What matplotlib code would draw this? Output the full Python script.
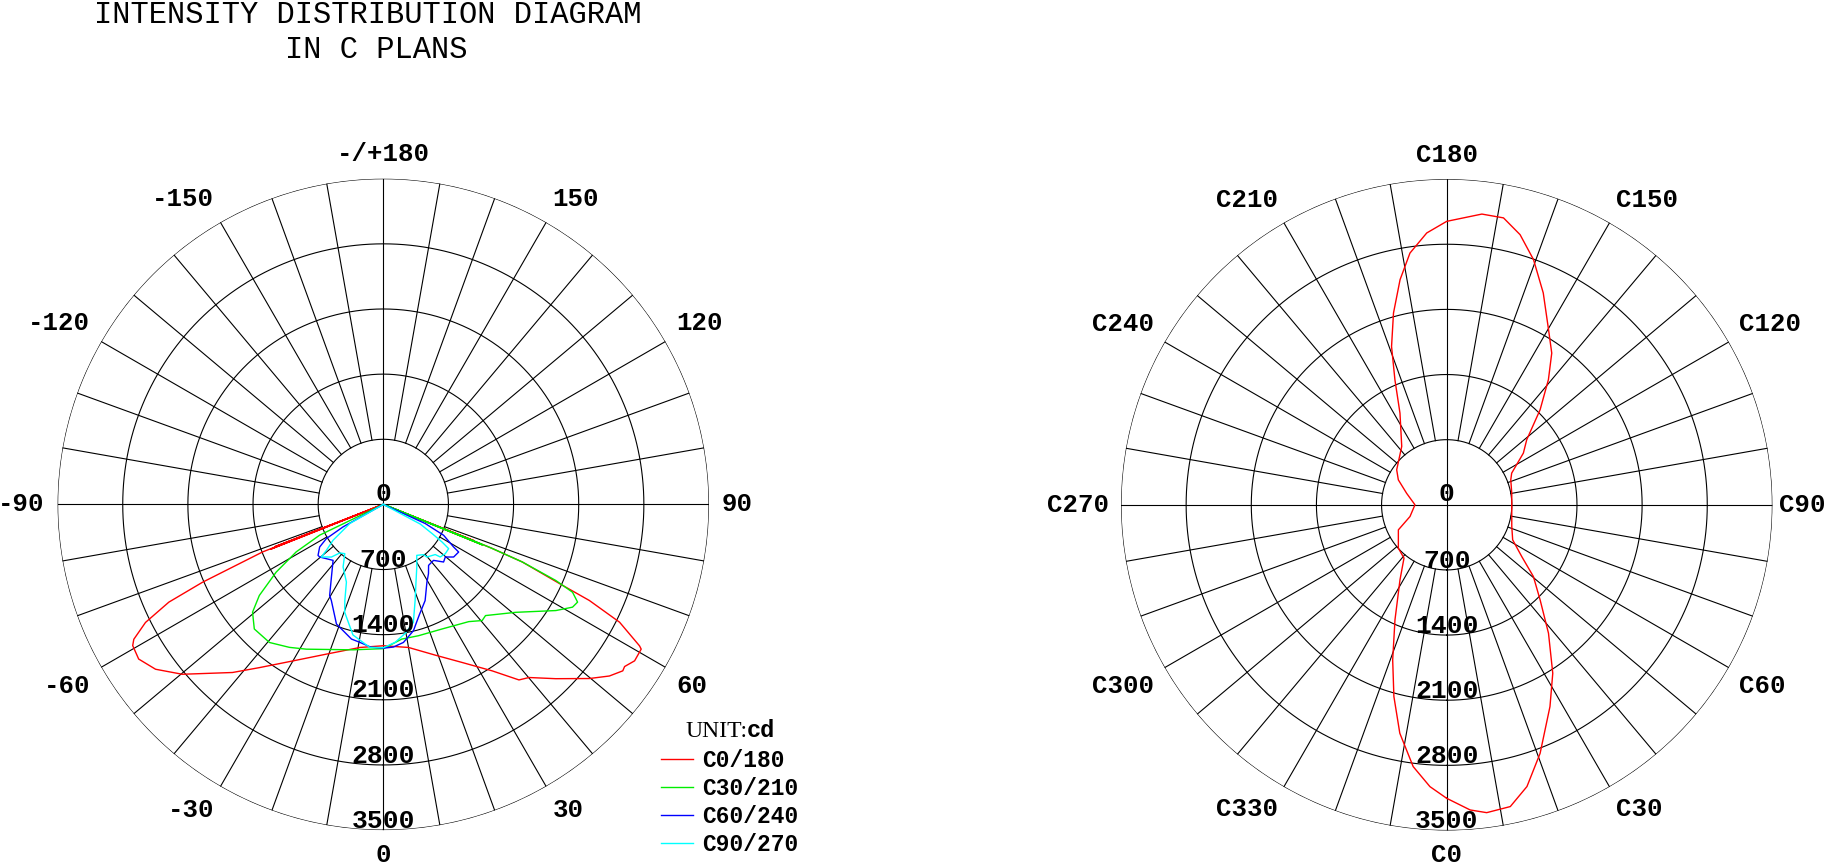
import numpy as np
import matplotlib.pyplot as plt
from matplotlib.font_manager import FontProperties

# ---- left diagram: gamma angle (deg) vs intensity (cd) for each C-plane pair ----
c0_gamma = [-90, -68.7, -65, -68.3, -71, -68.5, -66.7, -65.5, -63.6, -61.6, -60.6, -57.7,
            -54.1, -49.8, -41.9, -37.2, -30, -20.8, -9.3, 0, 10, 19, 26.5, 33.2, 37.7,
            40.1, 44.7, 49.8, 52.8, 55.2, 56.1, 58.1, 60.7, 61.1, 63.5, 65, 65.7, 67.5,
            68.0, 70.5, 67.8, 64.5, 68.2, 90]
c0_cd = [0, 1250, 40, 1300, 40, 1393, 2116, 2532, 2853, 3048, 3091, 3110,
         3021, 2828, 2427, 2202, 1942, 1721, 1558, 1519, 1561, 1713, 1898, 2138, 2384,
         2432, 2635, 2899, 3050, 3134, 3124, 3181, 3178, 3145, 2837, 2443, 2114, 1617,
         1250, 40, 1150, 40, 1050, 0]

c30_gamma = [-90, -64.2, -61.4, -57.7, -53.7, -50.5, -46, -39.5, -33.3, -28, -11.7, 0,
             7.8, 15, 25.2, 36.1, 40.4, 42.6, 50.8, 58.4, 61.5, 63.3, 65.1, 66.2, 67.5,
             68, 70, 67.8, 90]
c30_cd = [0, 760, 1066, 1362, 1653, 1821, 1927, 1923, 1838, 1762, 1596, 1550,
          1461, 1461, 1480, 1559, 1639, 1623, 1835, 2177, 2314, 2337, 2242, 2026, 1617,
          1250, 40, 1150, 0]

c60_gamma = [-90, -60.8, -59, -56.2, -52, -50.4, -41.9, -35.5, -30.5, -28.4, -21.4, -13.3,
             -9.6, -5, 0, 4, 8.3, 13.4, 18, 23.5, 29.3, 33.1, 36.6, 41.9, 46.3, 49.7,
             53.2, 57.7, 58.8, 62.9, 65.5, 90]
c60_cd = [0, 495, 714, 823, 890, 887, 808, 960, 1136, 1174, 1380, 1487,
          1504, 1540, 1545, 1537, 1499, 1396, 1250, 1127, 958, 889, 816, 808, 896, 874,
          944, 958, 883, 728, 495, 0]

c90_gamma = [-90, -60.3, -54.5, -51.1, -49.7, -47.3, -44.6, -41.9, -38, -32.7, -25.4, -21.8,
             -19.7, -13.1, -5.4, 0, 4.9, 10, 14.3, 18.3, 23, 28.1, 33.3, 38.7, 39.6, 46,
             47.3, 51.5, 55.9, 57.4, 59, 62, 90]
c90_cd = [0, 414, 663, 786, 874, 833, 795, 701, 672, 800, 924, 1113,
          1231, 1440, 1544, 1540, 1488, 1400, 1308, 1089, 900, 764, 655, 692, 734, 776,
          833, 851, 848, 748, 620, 450, 0]

# ---- right diagram: C angle (deg) vs intensity (cd) ----
c_angle = [0, 4.4, 7.4, 11.9, 15.9, 20.6, 27.1, 32.2, 38.4, 44.5, 50.4, 55.4, 62, 71.6, 80,
           90, 100, 111.3, 116, 124, 129.1, 135.5, 140.9, 145.3, 149.8, 155.5, 160.5, 164.8,
           168.8, 173.1, 180, 184.2, 188.3, 191.7, 195.5, 199.2, 202.5, 207, 217.6, 235,
           242.7, 254, 270, 287.7, 297.4, 311.9, 321.3, 328.1, 335.8, 340.8, 344.6, 348.4,
           352.7, 356.6, 360]
c_cd = [3154, 3289, 3336, 3314, 3148, 2853, 2436, 2139, 1761, 1432, 1209, 980, 803, 737, 710,
        699, 710, 739, 777, 994, 1108, 1432, 1733, 1983, 2176, 2502, 2795, 3008,
        3143, 3147, 3046, 2929, 2734, 2471, 2139, 1802, 1454, 1106, 792, 656,
        585, 448, 341, 414, 585, 698, 734, 950, 1356, 1765, 2137, 2506,
        2836, 3034, 3154]

ring_values = [700, 1400, 2100, 2800, 3500]
left_ticks = [0, 30, 60, 90, 120, 150, 180, -150, -120, -90, -60, -30]
left_tick_labels = ['0', '30', '60', '90', '120', '150', '-/+180', '-150', '-120', '-90', '-60', '-30']
right_ticks = [0, 30, 60, 90, 120, 150, 180, 210, 240, 270, 300, 330]
right_tick_labels = ['C0', 'C30', 'C60', 'C90', 'C120', 'C150', 'C180', 'C210', 'C240',
                     'C270', 'C300', 'C330']
legend_labels = ['C0/180', 'C30/210', 'C60/240', 'C90/270']
colors = ['#ff0000', '#00ee00', '#0000ff', '#00ffff']

mono_b = FontProperties(family='Liberation Mono', weight='bold', size=19)
mono_lab = FontProperties(family='Liberation Mono', weight='bold', size=18.5)
rmax = 3500


def setup(ax):
    ax.set_theta_zero_location('S')
    ax.set_theta_direction(1)
    ax.set_ylim(0, rmax)
    ax.axis('off')
    th = np.linspace(0, 2 * np.pi, 721)
    for rv in ring_values:
        ax.plot(th, np.full_like(th, rv), color='black', lw=0.8)
    for a in range(0, 360, 10):
        t = np.radians(a)
        r0 = 0 if a % 90 == 0 else ring_values[0]
        ax.plot([t, t], [r0, rmax], color='black', lw=0.8)
    # ring values along the downward axis
    ax.text(np.pi, 40, '0', ha='center', va='baseline', fontproperties=mono_b)
    for rv in ring_values:
        ax.text(0, rv - 25, str(rv), ha='center', va='baseline', fontproperties=mono_b)


def angle_labels(ax, ticks, labels, radii):
    for a, lab, r in zip(ticks, labels, radii):
        t = np.radians(a)
        s, c = np.sin(t), np.cos(t)
        ha = 'left' if s > 0.3 else ('right' if s < -0.3 else 'center')
        va = 'top' if c > 0.3 else ('bottom' if c < -0.3 else 'center')
        ax.text(t, r, lab, ha=ha, va=va, fontproperties=mono_lab, clip_on=False)


fig = plt.figure(figsize=(18.26, 8.65), dpi=100)
W, H = 1826, 865
R = 325.7

axl = fig.add_axes([(383.3 - R) / W, 1 - (504.4 + R) / H, 2 * R / W, 2 * R / H], projection='polar')
axr = fig.add_axes([(1446.7 - R) / W, 1 - (504.8 + R) / H, 2 * R / W, 2 * R / H], projection='polar')

setup(axl)
angle_labels(axl, left_ticks, left_tick_labels, [3640] * 12)
handles = []
for g, v, col in zip([c0_gamma, c30_gamma, c60_gamma, c90_gamma],
                     [c0_cd, c30_cd, c60_cd, c90_cd], colors):
    ln, = axl.plot(np.radians(g), v, color=col, lw=1.0)
    handles.append(ln)

setup(axr)
right_r = [3630] * 12
right_r[3] = 3570   # C90 sits tight against the right edge
angle_labels(axr, right_ticks, right_tick_labels, right_r)
axr.plot(np.radians(c_angle), c_cd, color='#ff0000', lw=1.0)

# title
fig.text(368 / W, 1 - 23 / H, 'INTENSITY DISTRIBUTION DIAGRAM', ha='center', va='baseline',
         family='Liberation Mono', size=22)
fig.text(376 / W, 1 - 58 / H, 'IN C PLANS', ha='center', va='baseline',
         family='Liberation Mono', size=22)

# unit + legend
fig.text(747 / W, 1 - 737 / H, 'UNIT:', ha='right', va='baseline', family='Liberation Serif', size=17)
fig.text(747 / W, 1 - 737 / H, 'cd', ha='left', va='baseline', family='Liberation Mono',
         weight='bold', size=17)
fig.legend(handles=handles, labels=legend_labels, loc='upper left',
           bbox_to_anchor=(661 / W, 1 - 749 / H), frameon=False,
           prop=FontProperties(family='Liberation Mono', weight='bold', size=16.5),
           handlelength=1.4, handletextpad=0.4, labelspacing=0.22, borderpad=0,
           borderaxespad=0)

fig.savefig('out.png', dpi=100)
